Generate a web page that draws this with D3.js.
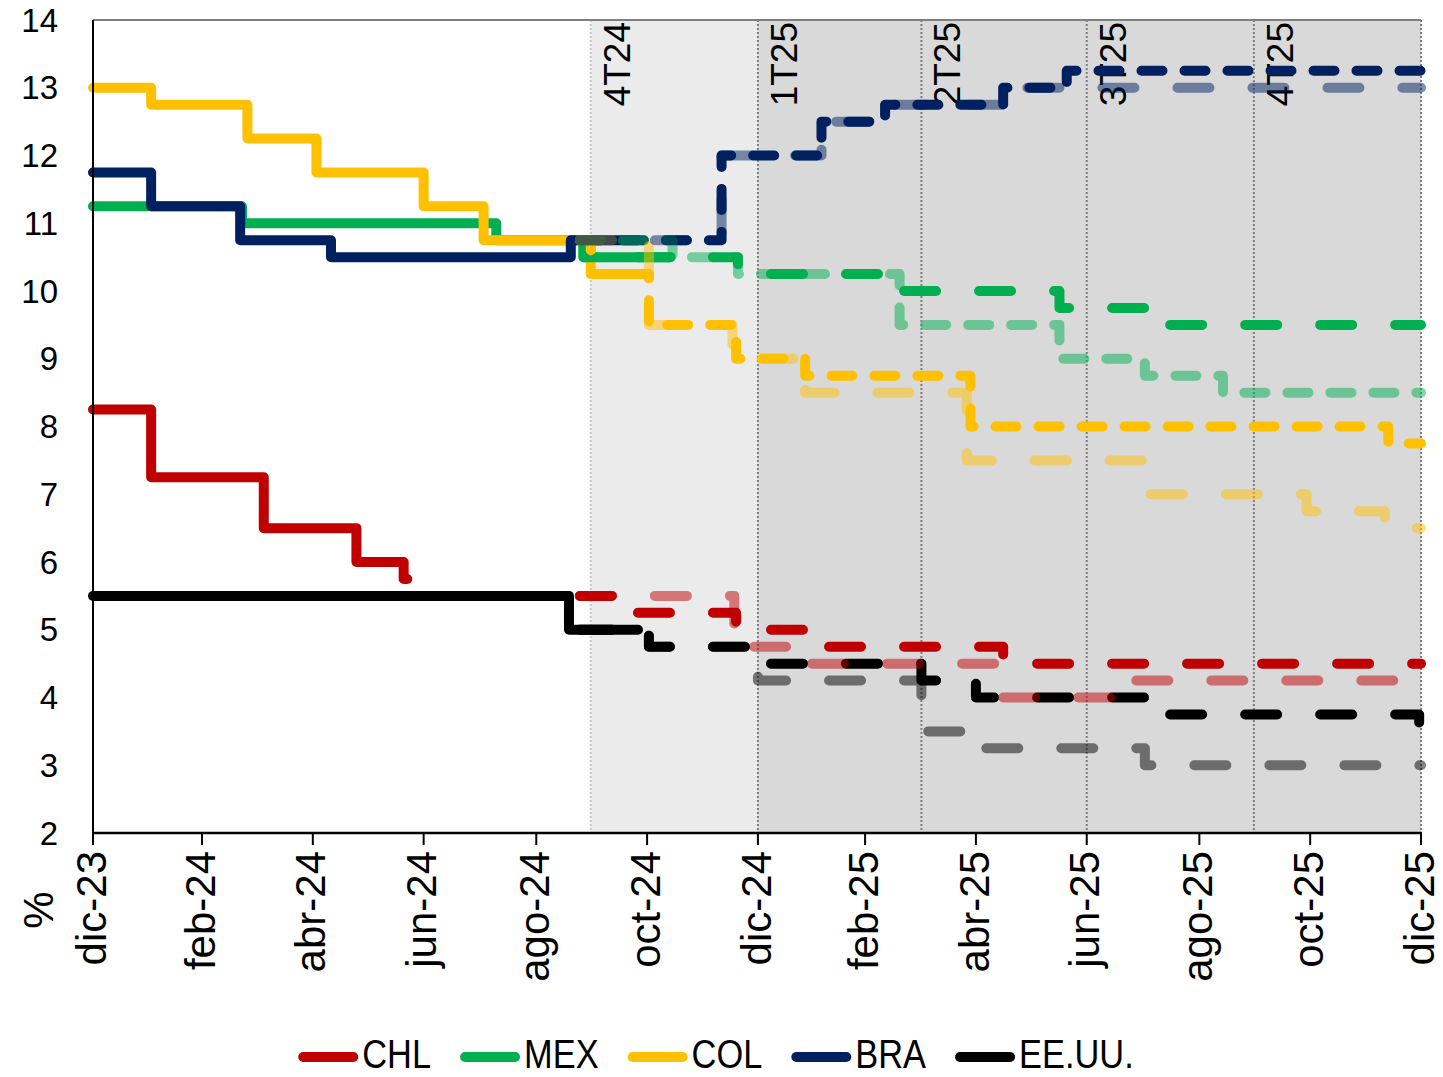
<!DOCTYPE html>
<html><head><meta charset="utf-8">
<script src="https://cdn.jsdelivr.net/npm/d3@7"></script>
<style>
body{margin:0;background:#fff}
svg{display:block}
text{font-family:"Liberation Sans",Arial,Helvetica,sans-serif;fill:#000}
</style>
</head><body>
<svg id="chart" width="1443" height="1077"></svg>
<script>
// ---------- data ----------
const xTickDates  = ["2023-12-31","2024-02-29","2024-04-30","2024-06-30","2024-08-31","2024-10-31","2024-12-31","2025-02-28","2025-04-30","2025-06-30","2025-08-31","2025-10-31","2025-12-31"];
const xTickLabels = ["dic-23","feb-24","abr-24","jun-24","ago-24","oct-24","dic-24","feb-25","abr-25","jun-25","ago-25","oct-25","dic-25"];
const yTicks = [2,3,4,5,6,7,8,9,10,11,12,13,14];
const quarterLines  = ["2024-09-30","2024-12-31","2025-03-31","2025-06-30","2025-09-30","2025-12-31"];
const quarterLabels = ["4T24","1T25","2T25","3T25","4T25"];
const countries = ["CHL","MEX","COL","BRA","EE.UU."];
const colors    = ["#C00000","#00B050","#FFC000","#002060","#000000"];

// actual policy rates (change points, last = end of data)
const chlActual = [["2023-12-31",8.25],["2024-02-01",7.25],["2024-04-03",6.5],["2024-05-24",6.0],["2024-06-19",5.75],["2024-06-21",5.75]];
const mexActual = [["2023-12-31",11.25],["2024-03-22",11.0],["2024-08-09",10.75],["2024-09-26",10.5],["2024-11-13",10.5]];
const colActual = [["2023-12-31",13.0],["2024-02-01",12.75],["2024-03-25",12.25],["2024-05-02",11.75],["2024-06-30",11.25],["2024-08-02",10.75],["2024-09-30",10.25],["2024-10-26",10.25]];
const braActual = [["2023-12-31",11.75],["2024-02-01",11.25],["2024-03-21",10.75],["2024-05-10",10.5],["2024-09-19",10.75],["2024-10-26",10.75]];
const usaActual = [["2023-12-31",5.5],["2024-09-18",5.0],["2024-10-26",5.0]];

// current survey forecast
const chlCur = [["2024-09-24",5.5],["2024-10-17",5.25],["2024-12-19",5.0],["2025-02-02",4.75],["2025-05-15",4.5],["2025-12-31",4.5]];
const mexCur = [["2024-09-24",10.75],["2024-09-26",10.5],["2024-12-20",10.25],["2025-03-19",10.0],["2025-06-15",9.75],["2025-08-01",9.5],["2025-12-31",9.5]];
const colCur = [["2024-09-24",10.75],["2024-09-30",10.25],["2024-11-01",9.5],["2024-12-19",9.0],["2025-01-26",8.75],["2025-04-27",8.0],["2025-12-13",7.75],["2025-12-31",7.75]];
const braCur = [["2024-09-24",10.75],["2024-12-11",12.0],["2025-02-04",12.5],["2025-03-11",12.75],["2025-05-15",13.0],["2025-06-19",13.25],["2025-12-31",13.25]];
const usaCur = [["2024-09-24",5.0],["2024-11-01",4.75],["2024-12-31",4.5],["2025-03-31",4.25],["2025-04-30",4.0],["2025-08-01",3.75],["2025-12-30",3.5],["2025-12-31",3.5]];

// previous survey forecast
const chlPrev = [["2024-09-24",5.5],["2024-12-18",4.75],["2025-01-23",4.5],["2025-05-13",4.0],["2025-07-25",4.25],["2025-12-31",4.25]];
const mexPrev = [["2024-09-24",10.75],["2024-11-14",10.5],["2024-12-20",10.25],["2025-03-19",9.5],["2025-06-15",9.0],["2025-08-01",8.75],["2025-09-13",8.5],["2025-12-31",8.5]];
const colPrev = [["2024-09-24",10.75],["2024-11-01",9.5],["2024-12-17",9.0],["2025-01-26",8.5],["2025-04-25",7.5],["2025-08-01",7.0],["2025-10-29",6.75],["2025-12-11",6.5],["2025-12-31",6.5]];
const braPrev = [["2024-09-24",10.75],["2024-12-11",12.0],["2025-02-04",12.5],["2025-03-11",12.75],["2025-05-15",13.0],["2025-12-31",13.0]];
const usaPrev = [["2024-09-24",5.0],["2024-11-01",4.75],["2024-12-31",4.25],["2025-03-31",3.5],["2025-04-30",3.25],["2025-08-01",3.0],["2025-12-31",3.0]];

// ---------- chart ----------
const parse = d3.utcParse("%Y-%m-%d");
const M = {left:93, right:1421, top:20, bottom:833};
const svg = d3.select("#chart");

const x = d3.scaleUtc().domain([parse(xTickDates[0]), parse(xTickDates[xTickDates.length-1])]).range([M.left, M.right]);
const y = d3.scaleLinear().domain([2,14]).range([M.bottom, M.top]);

// shaded periods
svg.append("rect").attr("x", x(parse(quarterLines[0]))).attr("y", M.top)
  .attr("width", x(parse(quarterLines[1])) - x(parse(quarterLines[0]))).attr("height", M.bottom - M.top)
  .attr("fill", "#EBEBEB");
svg.append("rect").attr("x", x(parse(quarterLines[1]))).attr("y", M.top)
  .attr("width", x(parse(quarterLines[5])) - x(parse(quarterLines[1]))).attr("height", M.bottom - M.top)
  .attr("fill", "#D9D9D9");

// quarter dotted lines
svg.selectAll(".qline").data(quarterLines).join("line")
  .attr("x1", d => x(parse(d))).attr("x2", d => x(parse(d)))
  .attr("y1", M.top).attr("y2", M.bottom)
  .attr("stroke", (d,i) => i === 0 ? "#C8C8C8" : "#7F7F7F")
  .attr("stroke-width", 2).attr("stroke-dasharray", "2,2");

// top border
svg.append("line").attr("x1", M.left).attr("x2", M.right).attr("y1", M.top).attr("y2", M.top)
  .attr("stroke", "#7F7F7F").attr("stroke-width", 2);

// quarter labels
svg.selectAll(".qlab").data(quarterLabels).join("text")
  .attr("transform", (d,i) => `translate(${x(parse(quarterLines[i])) + 26},22) rotate(-90)`)
  .attr("text-anchor", "end").attr("dy", "0.35em")
  .style("font-size", "37px").text(d => d);

// lines
const line = d3.line().x(d => x(parse(d[0]))).y(d => y(d[1])).curve(d3.curveStepAfter);
const LONG = "32,43", SHORT = "21,22";
const actual = [chlActual, mexActual, colActual, braActual, usaActual];
const cur = [chlCur, mexCur, colCur, braCur, usaCur];
const prev = [chlPrev, mexPrev, colPrev, braPrev, usaPrev];
const curDash  = [LONG, LONG, SHORT, SHORT, LONG];
const prevDash = [LONG, SHORT, LONG, LONG, LONG];

const g = svg.append("g").attr("fill", "none").attr("stroke-linecap", "round").attr("stroke-linejoin", "round");
actual.forEach((s,i) => g.append("path").attr("d", line(s)).attr("stroke", colors[i]).attr("stroke-width", 10));
cur.forEach((s,i) => g.append("path").attr("d", line(s)).attr("stroke", colors[i]).attr("stroke-width", 10).attr("stroke-dasharray", curDash[i]));
prev.forEach((s,i) => g.append("path").attr("d", line(s)).attr("stroke", colors[i]).attr("stroke-opacity", 0.5).attr("stroke-width", 10).attr("stroke-dasharray", prevDash[i]));

// axes
svg.append("line").attr("x1", M.left).attr("x2", M.left).attr("y1", M.top).attr("y2", M.bottom)
  .attr("stroke", "#000").attr("stroke-width", 2);
svg.append("line").attr("x1", M.left - 1).attr("x2", M.right + 1).attr("y1", M.bottom).attr("y2", M.bottom)
  .attr("stroke", "#000").attr("stroke-width", 2.5);
svg.selectAll(".xt").data(xTickDates).join("line")
  .attr("x1", d => x(parse(d))).attr("x2", d => x(parse(d)))
  .attr("y1", M.bottom).attr("y2", M.bottom + 12)
  .attr("stroke", "#000").attr("stroke-width", 2);

svg.selectAll(".xl").data(xTickDates).join("text")
  .attr("transform", d => `translate(${x(parse(d))},851) rotate(-90)`)
  .attr("text-anchor", "end").attr("dy", "0.3em")
  .style("font-size", "42px").text((d,i) => xTickLabels[i]);

svg.selectAll(".yl").data(yTicks).join("text")
  .attr("x", 58).attr("y", d => y(d)).attr("dy", "0.35em")
  .attr("text-anchor", "end").style("font-size", "33px").text(d => d);

svg.append("text").attr("transform", "translate(38,910) rotate(-90)")
  .attr("text-anchor", "middle").attr("dy", "0.35em").style("font-size", "42px").text("%");

// legend
const lg = svg.append("g");
const SX = 0.86, FS = 40, LW = 60, GAP1 = 4, GAP2 = 29;
const items = countries.map((c,i) => {
  const it = lg.append("g");
  it.append("line").attr("x1", 5).attr("x2", LW - 5).attr("y1", 0).attr("y2", 0)
    .attr("stroke", colors[i]).attr("stroke-width", 10).attr("stroke-linecap", "round");
  const t = it.append("text").attr("transform", `translate(${LW + GAP1},11) scale(${SX},1)`)
    .style("font-size", FS + "px").text(c);
  const w = LW + GAP1 + t.node().getComputedTextLength() * SX;
  return {it, w};
});
const total = d3.sum(items, d => d.w) + GAP2 * (items.length - 1);
let cx = 716 - total / 2;
items.forEach(d => { d.it.attr("transform", `translate(${cx},1057)`); cx += d.w + GAP2; });
</script>
</body></html>
